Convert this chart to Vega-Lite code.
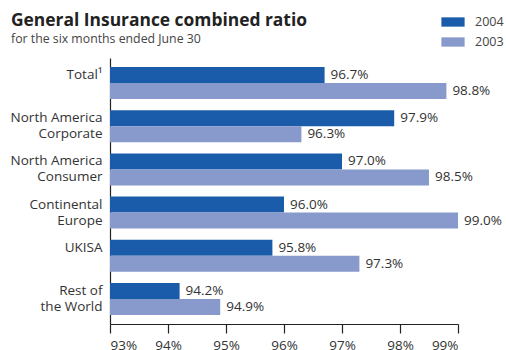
{
  "$schema": "https://vega.github.io/schema/vega-lite/v6.json",
  "width": 348,
  "height": 266,
  "autosize": {"type": "none"},
  "padding": {"left": 110, "top": 58, "right": 48, "bottom": 26},
  "config": {"font": "Open Sans", "view": {"stroke": null}},
  "title": {
    "text": "General Insurance combined ratio",
    "subtitle": "for the six months ended June 30",
    "anchor": "start",
    "frame": "group",
    "dx": -99,
    "fontSize": 17.4,
    "fontWeight": "bold",
    "color": "#222222",
    "subtitleFontSize": 12.3,
    "subtitleColor": "#444444",
    "subtitlePadding": 3,
    "offset": -31
  },
  "data": {
    "values": [
      {"region": "Total¹", "year": "2004", "ratio": 0.967},
      {"region": "Total¹", "year": "2003", "ratio": 0.988},
      {"region": "North America Corporate", "year": "2004", "ratio": 0.979},
      {"region": "North America Corporate", "year": "2003", "ratio": 0.963},
      {"region": "North America Consumer", "year": "2004", "ratio": 0.970},
      {"region": "North America Consumer", "year": "2003", "ratio": 0.985},
      {"region": "Continental Europe", "year": "2004", "ratio": 0.960},
      {"region": "Continental Europe", "year": "2003", "ratio": 0.990},
      {"region": "UKISA", "year": "2004", "ratio": 0.958},
      {"region": "UKISA", "year": "2003", "ratio": 0.973},
      {"region": "Rest of the World", "year": "2004", "ratio": 0.942},
      {"region": "Rest of the World", "year": "2003", "ratio": 0.949}
    ]
  },
  "encoding": {
    "y": {
      "field": "region",
      "type": "nominal",
      "sort": ["Total¹", "North America Corporate", "North America Consumer", "Continental Europe", "UKISA", "Rest of the World"],
      "scale": {"paddingInner": 0.26, "paddingOuter": 0.21},
      "axis": {
        "title": null,
        "ticks": false,
        "labelFontSize": 13.5,
        "labelColor": "#333333",
        "labelPadding": 8,
        "labelLineHeight": 16,
        "labelAlign": "right",
        "labelBaseline": "middle",
        "labelOffset": -8,
        "domainColor": "#222222",
        "domainWidth": 1.2,
        "labelExpr": "datum.label == 'North America Corporate' ? ['North America', 'Corporate'] : datum.label == 'North America Consumer' ? ['North America', 'Consumer'] : datum.label == 'Continental Europe' ? ['Continental', 'Europe'] : datum.label == 'Rest of the World' ? ['Rest of', 'the World'] : datum.label"
      }
    },
    "yOffset": {"field": "year", "type": "nominal", "sort": ["2004", "2003"]},
    "x": {
      "field": "ratio",
      "type": "quantitative",
      "scale": {"domain": [0.93, 0.99], "nice": false, "zero": false},
      "axis": {
        "title": null,
        "grid": false,
        "format": ".0%",
        "values": [0.93, 0.94, 0.95, 0.96, 0.97, 0.98, 0.99],
        "tickSize": 9,
        "tickWidth": 1.2,
        "tickColor": "#222222",
        "domainColor": "#222222",
        "domainWidth": 1.2,
        "labelFontSize": 13.5,
        "labelColor": "#333333",
        "labelPadding": 5
      }
    }
  },
  "layer": [
    {
      "mark": {"type": "bar"},
      "encoding": {
        "x2": {"datum": 0.93},
        "color": {
          "field": "year",
          "type": "nominal",
          "scale": {"domain": ["2004", "2003"], "range": ["#1a5ca9", "#8899cc"]},
          "legend": {
            "orient": "none",
            "legendX": 335,
            "legendY": -44,
            "title": null,
            "symbolType": "M-1.5,-0.6H1.5V0.6H-1.5Z",
            "symbolSize": 240,
            "symbolStrokeWidth": 0,
            "symbolOpacity": 1,
            "labelFontSize": 12.5,
            "labelColor": "#444444",
            "labelOffset": 14,
            "rowPadding": 5
          }
        }
      }
    },
    {
      "mark": {"type": "text", "align": "left", "baseline": "middle", "dx": 6, "fontSize": 13.5, "color": "#333333"},
      "encoding": {
        "text": {"field": "ratio", "type": "quantitative", "format": ".1%"}
      }
    }
  ]
}
